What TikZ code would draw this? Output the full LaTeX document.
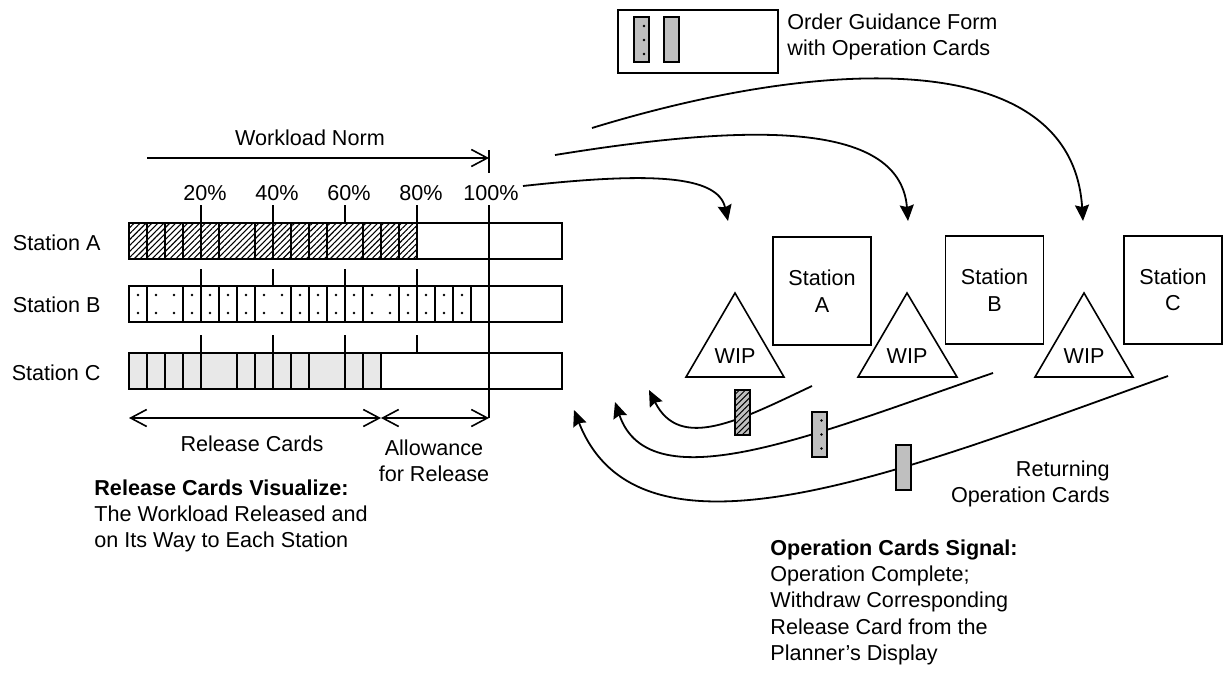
\documentclass[tikz,border=0pt]{standalone}
\usepackage{fontspec}
\setmainfont{Liberation Sans}
\usetikzlibrary{arrows.meta}
\usetikzlibrary{patterns.meta}

\begin{document}
\begin{tikzpicture}[x=0.5pt,y=-0.5pt,
            every node/.style={font=\fontsize{10.8pt}{13.2pt}\selectfont, inner sep=0pt},
            bar/.style={draw, line width=1pt},
            cell/.style={draw, line width=0.9pt},
            hatch cell/.style={cell, pattern={Lines[angle=45,distance=2.1pt,line width=0.55pt]}},
            grey cell/.style={cell, fill=black!9},
            tick/.style={line width=1pt},
            dim arrow/.style={line width=0.8pt, {Straight Barb[length=8pt,width=8.5pt]}-{Straight Barb[length=8pt,width=8.5pt]}},
            flow/.style={line width=0.9pt, -{Stealth[length=8pt,width=7pt,inset=1pt]}},
            station box/.style={draw, line width=0.8pt, minimum width=49pt, minimum height=54pt, align=center},
            wip/.style={draw, line width=0.8pt},
            card/.style={draw, line width=1pt, fill=black!25, minimum width=7.5pt, minimum height=22.5pt},
            card dot/.style={fill, radius=0.65pt},
            ]
            \useasboundingbox (0,0) rectangle (1225,690);
            \def\xo{129}
            \def\pw{3.6}

            % station labels
            \node[anchor=east] (labA) at (101,243) {Station A};
            \node[anchor=east] (labB) at (101,305) {Station B};
            \node[anchor=east] (labC) at (101,373) {Station C};

            % release cards per station
            \foreach \a/\b in {0/5,5/10,10/15,15/20,20/25,25/35,35/40,40/45,45/50,50/55,55/65,65/70,70/75,75/80}
                \draw[hatch cell] ({\xo+\pw*\a},223) rectangle ({\xo+\pw*\b},259);
            \foreach \k in {0,...,18} {
                \fill[card dot] ({\xo+18*\k+9},295) circle;
                \fill[card dot] ({\xo+18*\k+9},313) circle;
            }
            \foreach \a/\b in {0/5,5/15,15/20,20/25,25/30,30/35,35/45,45/50,50/55,55/60,60/65,65/75,75/80,80/85,85/90,90/95}
                \draw[cell] ({\xo+\pw*\a},286) rectangle ({\xo+\pw*\b},322);
            \foreach \a/\b in {0/5,5/10,10/15,15/20,20/30,30/35,35/40,40/45,45/50,50/60,60/65,65/70}
                \draw[grey cell] ({\xo+\pw*\a},353) rectangle ({\xo+\pw*\b},389);
            \draw[bar] (\xo,223) rectangle (562,259);
            \draw[bar] (\xo,286) rectangle (562,322);
            \draw[bar] (\xo,353) rectangle (562,389);

            % percentage ticks
            \foreach \p in {20,40,60,80} {
                \node (p\p) at ({\xo+\pw*\p+4},193) {\p\%};
                \draw[tick] ({\xo+\pw*\p},205) -- ({\xo+\pw*\p},223);
                \draw[tick] ({\xo+\pw*\p},269) -- ({\xo+\pw*\p},286);
                \draw[tick] ({\xo+\pw*\p},335) -- ({\xo+\pw*\p},353);
            }
            \node (p100) at (491,193) {100\%};
            \draw[tick] (489,150) -- (489,173);
            \draw[tick] (489,205) -- (489,418);

            % workload norm
            \coordinate (normL) at (147,158);
            \coordinate (normR) at (489,158);
            \draw[line width=0.8pt, -{Straight Barb[length=8pt,width=8.5pt]}] (normL) -- (normR);
            \node (norm) at (310,138) {Workload Norm};

            % release cards and allowance
            \coordinate (relL) at (\xo,418);
            \coordinate (relM) at ({\xo+\pw*70},418);
            \coordinate (relR) at (489,418);
            \draw[dim arrow] (relL) -- (relM);
            \draw[dim arrow] (relM) -- (relR);
            \node (relcards) at (252,444) {Release Cards};
            \node[align=center] (allow) at (434,461) {Allowance\\for Release};
            \node[align=left, anchor=north west] (visual) at (94,479)
                {\textbf{Release Cards Visualize:}\\The Workload Released and\\on Its Way to Each Station};

            % order guidance form
            \node[draw, line width=0.8pt, minimum width=80pt, minimum height=31.5pt] (form) at (698,41.5) {};
            \node[card] (fcard1) at (641,40) {};
            \node[card] (fcard2) at (671.5,40) {};
            \foreach \dy in {-7,0,7}
                \fill[card dot] ([xshift=1.5pt,yshift=\dy pt]fcard1.center) circle;
            \node[align=left, anchor=west] (formtxt) at (787,37) {Order Guidance Form\\with Operation Cards};

            % stations and queues
            \node[station box] (stA) at (822,291) {Station\\A};
            \node[station box] (stB) at (994.5,290) {Station\\B};
            \node[station box] (stC) at (1173,290) {Station\\C};
            \draw[wip] (735,293) -- (784,377) -- (686,377) -- cycle;
            \draw[wip] (907,293) -- (957,377) -- (858,377) -- cycle;
            \draw[wip] (1084,293) -- (1133,377) -- (1035,377) -- cycle;
            \node (wipA) at (735,356) {WIP};
            \node (wipB) at (907,356) {WIP};
            \node (wipC) at (1084,356) {WIP};

            % orders going out
            \coordinate (outA) at (523,186);
            \coordinate (outB) at (555,155);
            \coordinate (outC) at (592,128);
            \coordinate (inA) at (728,221);
            \coordinate (inB) at (908,221);
            \coordinate (inC) at (1083,221);
            \draw[flow] (outA) .. controls (650,172) and (718,175) .. (inA);
            \draw[flow] (outB) .. controls (740,125) and (900,118) .. (inB);
            \draw[flow] (outC) .. controls (830,55) and (1072,48) .. (inC);

            % operation cards coming back
            \coordinate (doneA) at (812,386);
            \coordinate (doneB) at (993,373);
            \coordinate (doneC) at (1168,376);
            \coordinate (backA) at (649,390);
            \coordinate (backB) at (615,402);
            \coordinate (backC) at (574,410);
            \draw[flow] (doneA) .. controls (740,420) and (680,452) .. (backA);
            \draw[flow] (doneB) .. controls (820,432) and (650,505) .. (backB);
            \draw[flow] (doneC) .. controls (900,472) and (640,578) .. (backC);
            \node[card, preaction={fill=black!25}, pattern={Lines[angle=45,distance=2.1pt,line width=0.5pt]}] (rcard1) at (742.5,412.5) {};
            \node[card] (rcard2) at (819.5,434.5) {};
            \foreach \dy in {-7,0,7}
                \fill[card dot] ([xshift=1pt,yshift=\dy pt]rcard2.center) circle;
            \node[card] (rcard3) at (903.5,467.5) {};
            \node[align=right, anchor=east] (returning) at (1110,484) {Returning\\Operation Cards};

            \node[align=left, anchor=north west] (signal) at (770,539)
                {\textbf{Operation Cards Signal:}\\Operation Complete;\\Withdraw Corresponding\\Release Card from the\\Planner’s Display};
        \end{tikzpicture}
\end{document}
